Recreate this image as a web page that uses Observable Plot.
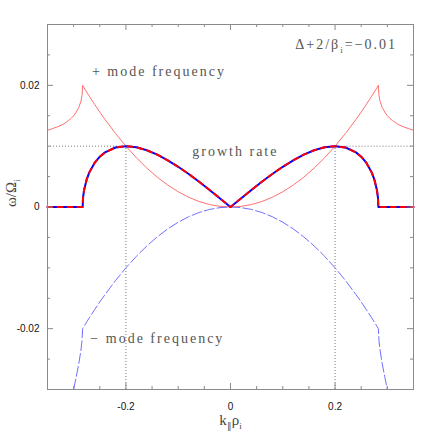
<!DOCTYPE html>
<html><head><meta charset="utf-8">
<script src="https://cdn.jsdelivr.net/npm/d3@7"></script>
<script src="https://cdn.jsdelivr.net/npm/@observablehq/plot@0.6"></script>
<style>
html,body{margin:0;padding:0;background:#fff;}
</style></head><body><div id="chart"></div>
<script>
// k_par * rho_i sample points
const kPar = [-0.35,-0.34,-0.33,-0.32,-0.31,-0.305,-0.30,-0.295,-0.29,-0.286,-0.284,-0.2828,-0.282,-0.28,-0.275,-0.27,-0.26,-0.25,-0.24,-0.22,-0.20,-0.18,-0.16,-0.14,-0.12,-0.10,-0.08,-0.06,-0.04,-0.02,
  0,
  0.02,0.04,0.06,0.08,0.10,0.12,0.14,0.16,0.18,0.20,0.22,0.24,0.25,0.26,0.27,0.275,0.28,0.282,0.2828,0.284,0.286,0.29,0.295,0.30,0.305,0.31,0.32,0.33,0.34,0.35];
// growth rate (omega/Omega_i)
const growthRate = [0,0,0,0,0,0,0,0,0,0,0,0,0.00154,0.0028,0.00455,0.00569,0.00724,0.00827,0.00898,0.00978,0.01,0.00982,0.00933,0.0086,0.00768,0.00661,0.00543,0.00415,0.0028,0.00141,
  0,
  0.00141,0.0028,0.00415,0.00543,0.00661,0.00768,0.0086,0.00933,0.00982,0.01,0.00978,0.00898,0.00827,0.00724,0.00569,0.00455,0.0028,0.00154,0,0,0,0,0,0,0,0,0,0,0,0];
// + mode frequency
const plusFreq = [0.0126,0.0129,0.0132,0.0136,0.0142,0.01455,0.015,0.0156,0.0164,0.0174,0.0183,0.02,0.0199,0.0196,0.0189,0.0182,0.0169,0.0156,0.0144,0.0121,0.01,0.0081,0.0064,0.0049,0.0036,0.0025,0.0016,0.0009,0.0004,0.0001,
  0,
  0.0001,0.0004,0.0009,0.0016,0.0025,0.0036,0.0049,0.0064,0.0081,0.01,0.0121,0.0144,0.0156,0.0169,0.0182,0.0189,0.0196,0.0199,0.02,0.0183,0.0174,0.0164,0.0156,0.015,0.01455,0.0142,0.0136,0.0132,0.0129,0.0126];
// - mode frequency
const minusFreq = [null,null,null,null,null,-0.032,-0.03,-0.0279,-0.0257,-0.0235,-0.022,-0.02,-0.0199,-0.0196,-0.0189,-0.0182,-0.0169,-0.0156,-0.0144,-0.0121,-0.01,-0.0081,-0.0064,-0.0049,-0.0036,-0.0025,-0.0016,-0.0009,-0.0004,-0.0001,
  0,
  -0.0001,-0.0004,-0.0009,-0.0016,-0.0025,-0.0036,-0.0049,-0.0064,-0.0081,-0.01,-0.0121,-0.0144,-0.0156,-0.0169,-0.0182,-0.0189,-0.0196,-0.0199,-0.02,-0.022,-0.0235,-0.0257,-0.0279,-0.03,-0.032,null,null,null,null,null];

const peakK = [-0.2, 0.2];
const peakRate = 0.01;
const xDomain = [-0.35, 0.35];
const yDomain = [-0.03, 0.03];
const xMajor = [-0.2, 0, 0.2];
const xMinor = [-0.3,-0.25,-0.15,-0.1,-0.05,0.05,0.1,0.15,0.25,0.3];
const yMajor = [-0.02, 0, 0.02];
const yMinor = [-0.025,-0.015,-0.01,-0.005,0.005,0.01,0.015,0.025];
const annLabels = ["+ mode frequency", "growth rate", "− mode frequency", "Δ+2/β_i=−0.01"];
const annK = [-0.265, -0.073, -0.268, 0.124];
const annW = [0.0215, 0.00845, -0.0223, 0.0259];
const yLabel = "ω/Ω_i";
const xLabel = "k_∥ρ_i";

const rows = kPar.map((k, i) => ({k, g: growthRate[i], p: plusFreq[i], m: minusFreq[i]}));

const W = 436, H = 436, mL = 47, mR = 23, mT = 24, mB = 47;
const pw = W - mL - mR, ph = H - mT - mB;
const axisGray = "#8a8a8a";
const majorLen = 6, minorLen = 3;
const serif = "Liberation Serif, Times New Roman, serif";

const chart = Plot.plot({
  width: W, height: H,
  marginLeft: mL, marginRight: mR, marginTop: mT, marginBottom: mB,
  x: {domain: xDomain},
  y: {domain: yDomain},
  style: {fontFamily: "Liberation Sans, Arial, sans-serif", fontSize: "10px", color: "#111", background: "#fff"},
  marks: [
    // dotted guides at the growth-rate maximum
    Plot.ruleY(peakK, {y: () => peakRate, x1: d => d < 0 ? xDomain[0] : d, x2: d => d < 0 ? d : xDomain[1], stroke: "#777", strokeDasharray: "1,2"}),
    Plot.ruleX(peakK, {x: d => d, y1: yDomain[0], y2: peakRate, stroke: "#777", strokeDasharray: "1,2"}),
    // mode frequencies
    Plot.line(rows, {x: "k", y: "p", stroke: "#ff7070", strokeWidth: 1}),
    Plot.line(rows, {x: "k", y: "m", stroke: "#7070ff", strokeWidth: 1, strokeDasharray: "10,3", clip: true}),
    // growth rate
    Plot.line(rows, {x: "k", y: "g", stroke: "#0000ff", strokeWidth: 2}),
    Plot.line(rows, {x: "k", y: "g", stroke: "#ff0000", strokeWidth: 2, strokeDasharray: "5,5"}),
    // frame and inward ticks
    Plot.frame({stroke: axisGray}),
    Plot.tickX(xMajor, {x: d => d, insetTop: ph - majorLen, stroke: axisGray}),
    Plot.tickX(xMajor, {x: d => d, insetBottom: ph - majorLen, stroke: axisGray}),
    Plot.tickX(xMinor, {x: d => d, insetTop: ph - minorLen, stroke: axisGray}),
    Plot.tickX(xMinor, {x: d => d, insetBottom: ph - minorLen, stroke: axisGray}),
    Plot.tickY(yMajor, {y: d => d, insetRight: pw - majorLen, stroke: axisGray}),
    Plot.tickY(yMajor, {y: d => d, insetLeft: pw - majorLen, stroke: axisGray}),
    Plot.tickY(yMinor, {y: d => d, insetRight: pw - minorLen, stroke: axisGray}),
    Plot.tickY(yMinor, {y: d => d, insetLeft: pw - minorLen, stroke: axisGray}),
    Plot.axisX(xMajor, {tickSize: 0, tickPadding: 13, tickFormat: d => String(d), label: null}),
    Plot.axisY(yMajor, {tickSize: 0, tickPadding: 8, tickFormat: d => String(d), label: null}),
    // annotations
    Plot.text(annLabels, {x: annK, y: annW, text: d => d, textAnchor: "start", lineAnchor: "bottom", fontFamily: serif, fontSize: 14, fill: "#555"}),
    // axis titles
    Plot.text([yLabel], {frameAnchor: "left", dx: -36, rotate: -90, text: d => d, fontFamily: serif, fontSize: 15, fill: "#444"}),
    Plot.text([xLabel], {frameAnchor: "bottom", dy: 35, lineAnchor: "bottom", text: d => d, fontFamily: serif, fontSize: 15, fill: "#444"})
  ]
});

// letter spacing for annotation texts, subscripts for "_x"
d3.select(chart).selectAll("text").each(function() {
  const el = this;
  const s = el.textContent;
  if (annLabels.includes(s)) el.setAttribute("letter-spacing", "2");
  if (!s.includes("_")) return;
  while (el.firstChild) el.removeChild(el.firstChild);
  const re = /_(.)/g;
  let last = 0, m, shifted = false;
  const add = (t, dy, small) => {
    const ts = document.createElementNS("http://www.w3.org/2000/svg", "tspan");
    ts.textContent = t;
    if (dy) ts.setAttribute("dy", dy);
    if (small) ts.setAttribute("font-size", "9");
    el.appendChild(ts);
  };
  while ((m = re.exec(s))) {
    if (m.index > last) { add(s.slice(last, m.index), shifted ? -4 : 0, false); shifted = false; }
    add(m[1], shifted ? 0 : 4, true); shifted = true;
    last = re.lastIndex;
  }
  if (last < s.length) add(s.slice(last), shifted ? -4 : 0, false);
});

document.getElementById("chart").appendChild(chart);
</script></body></html>
